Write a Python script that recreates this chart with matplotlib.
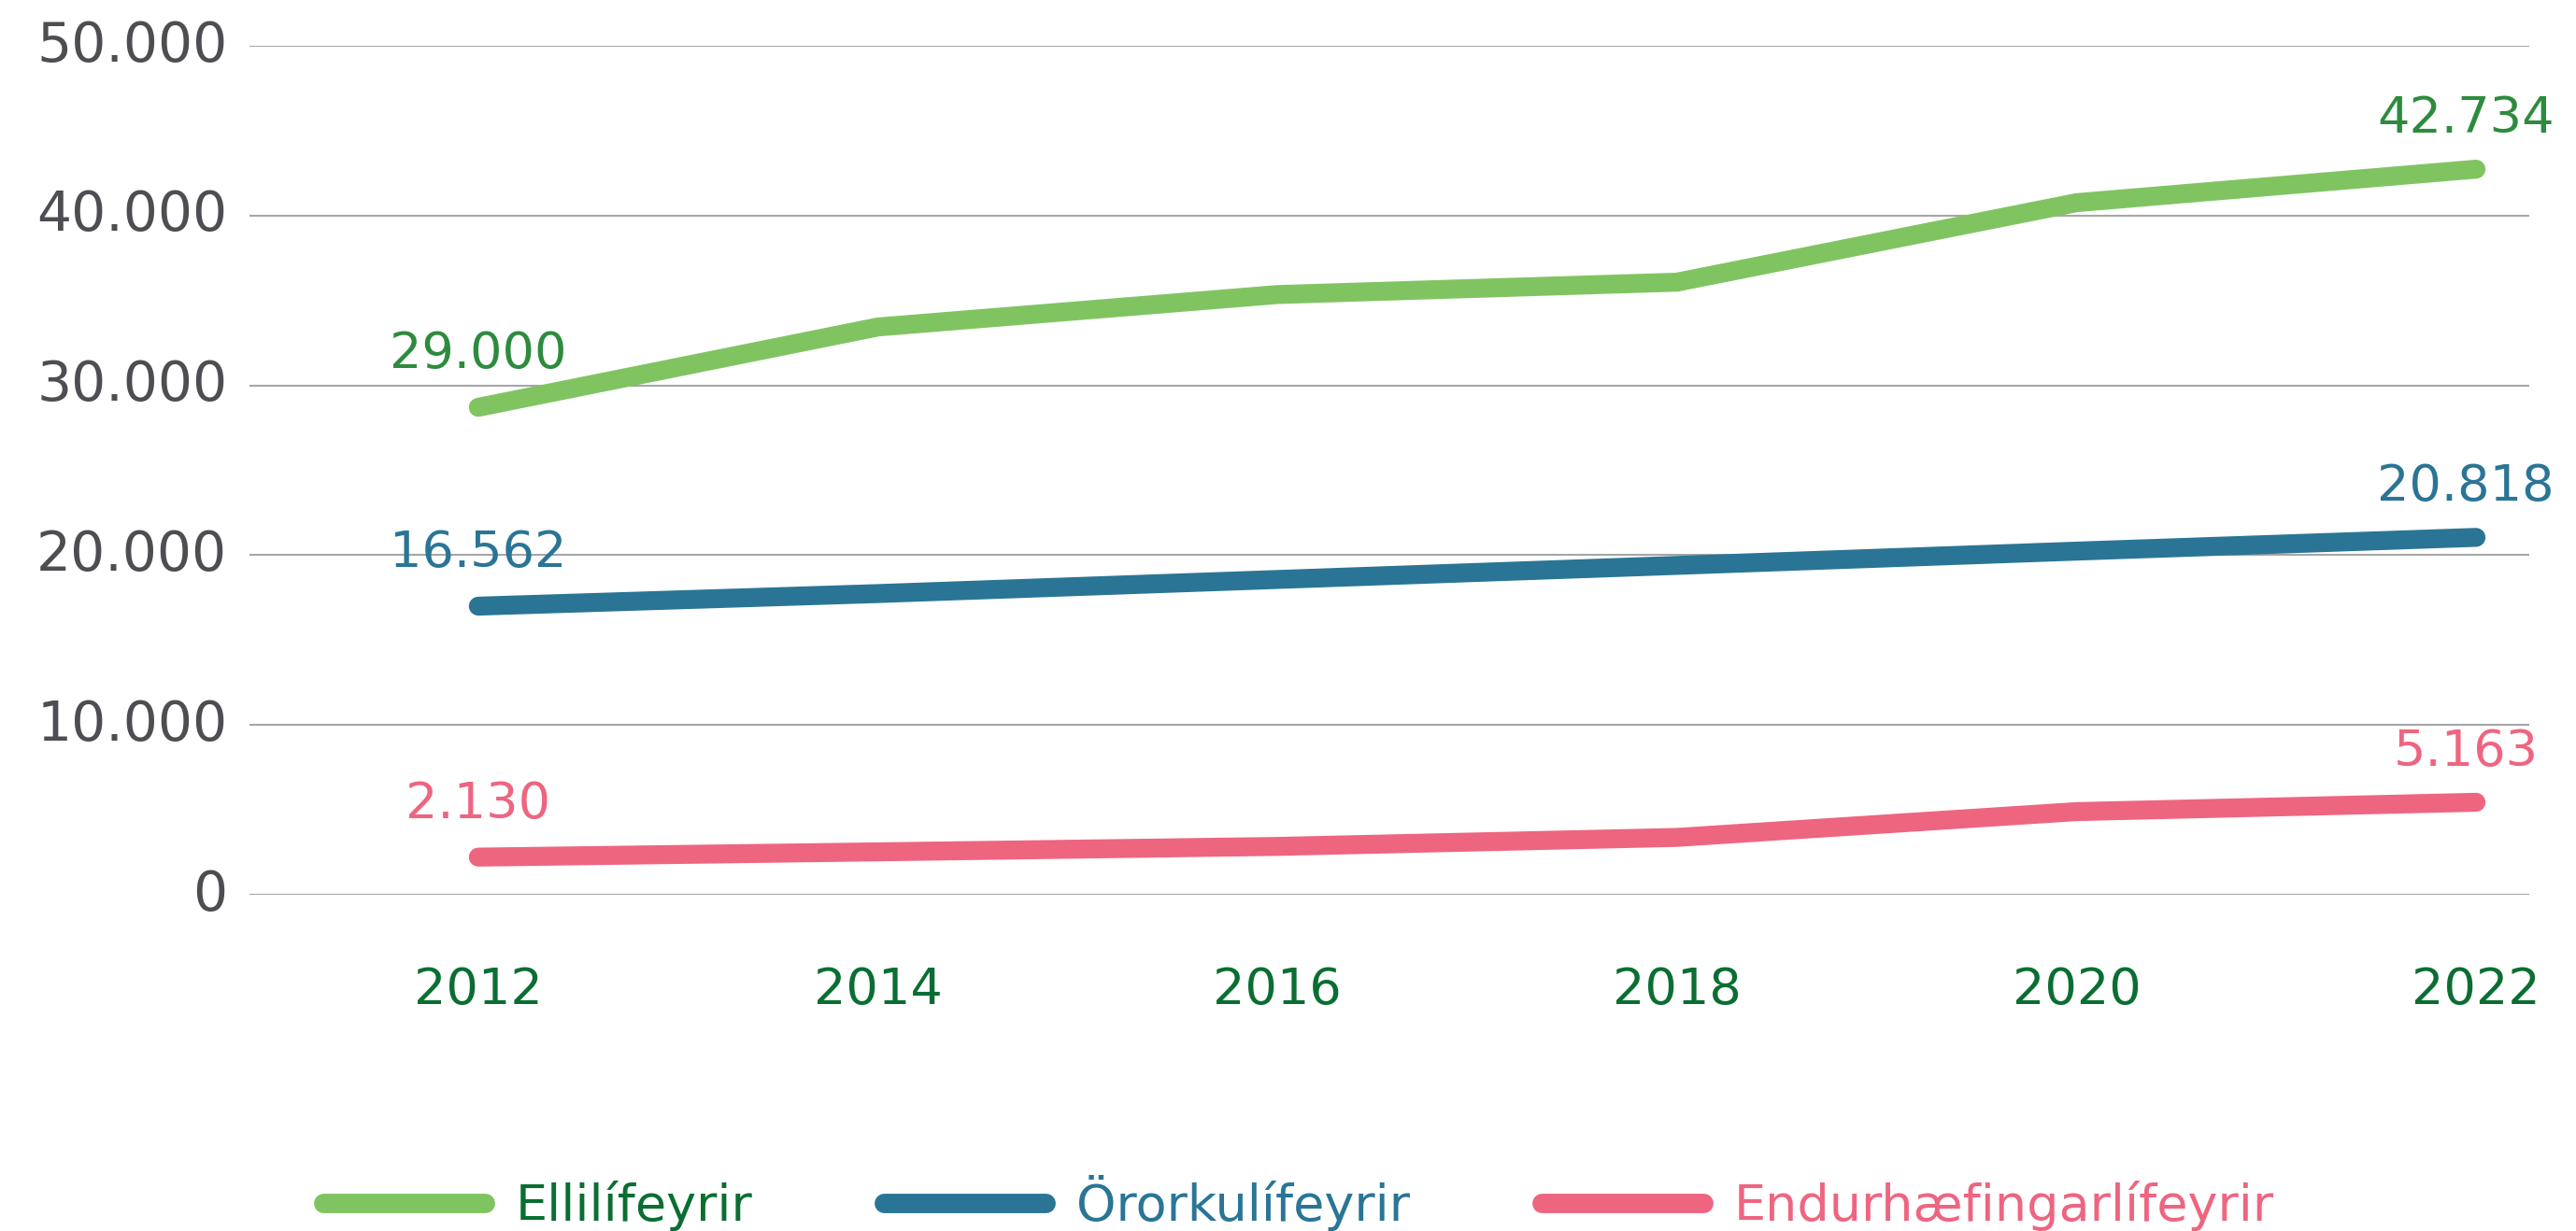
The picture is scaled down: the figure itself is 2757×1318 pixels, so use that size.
import matplotlib
matplotlib.use("Agg")
import matplotlib.pyplot as plt

plt.rcParams['font.family'] = ['DejaVu Sans']
plt.rcParams['font.size'] = 39

years = [2012, 2014, 2016, 2018, 2020, 2022]
elli = [28710, 33440, 35350, 36080, 40760, 42734]
oror = [17000, 17740, 18570, 19400, 20240, 21050]
endur = [2220, 2530, 2850, 3380, 4900, 5450]

names = ["Ellilífeyrir", "Örorkulífeyrir", "Endurhæfingarlífeyrir"]
line_cols = ["#80c462", "#2a7596", "#ee6580"]
label_cols = ["#2e8b3e", "#2a7596", "#ee6580"]
legend_text_cols = ["#0a6e32", "#2a7596", "#ee6580"]
first_labels = ["29.000", "16.562", "2.130"]
last_labels = ["42.734", "20.818", "5.163"]

yticks = [0, 10000, 20000, 30000, 40000, 50000]
ytick_labels = ["0", "10.000", "20.000", "30.000", "40.000", "50.000"]

fig = plt.figure(figsize=(27.57, 13.18), dpi=100)
ax = fig.add_axes([0.0968, 0.2731, 0.8851, 0.6897])

series = [elli, oror, endur]
for vals, nm, c, lc, fl, ll in zip(series, names, line_cols, label_cols, first_labels, last_labels):
    ax.plot(years, vals, color=c, lw=14.6, solid_capstyle='round',
            solid_joinstyle='miter', label=nm, zorder=3)
    ax.annotate(fl, (years[0], vals[0]), xytext=(0, 30), textcoords='offset points',
                ha='center', va='baseline', color=lc, fontsize=39)
    ax.annotate(ll, (years[-1], vals[-1]), xytext=(-8, 28), textcoords='offset points',
                ha='center', va='baseline', color=lc, fontsize=39)

ax.set_xlim(2010.854, 2022.267)
ax.set_ylim(0, 50000)
ax.set_yticks(yticks)
ax.set_yticklabels(ytick_labels)
ax.set_xticks(years)
ax.set_xticklabels([str(y) for y in years])
ax.tick_params(axis='y', length=0, pad=17, colors='#4d4d52', labelsize=42)
ax.tick_params(axis='x', length=0, pad=55, colors='#0a6e32', labelsize=39)
for lab in ax.get_yticklabels():
    lab.set_va('center')
ax.grid(axis='y', color='#a6a6a6', lw=1.5)
ax.set_axisbelow(True)
for s in ax.spines.values():
    s.set_visible(False)

leg = fig.legend(loc='center', bbox_to_anchor=(0.504, 0.0228), ncol=3, frameon=False,
                 handlelength=3.2, handletextpad=0.6, columnspacing=2.6, fontsize=39)
for h in leg.get_lines():
    h.set_linewidth(15)
    h.set_solid_capstyle('round')
for t, c in zip(leg.get_texts(), legend_text_cols):
    t.set_color(c)

fig.savefig("out.png", dpi=100)
